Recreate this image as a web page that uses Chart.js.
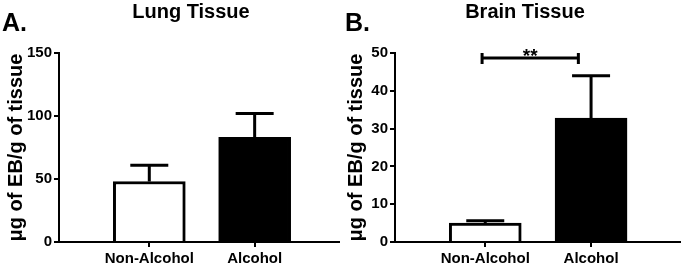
<!DOCTYPE html>
<html>
<head>
<meta charset="utf-8">
<script src="https://cdn.jsdelivr.net/npm/chart.js@4.4.1/dist/chart.umd.min.js"></script>
<style>
  body { margin: 0; background: #fff; }
  #wrap { position: relative; width: 681px; height: 266px; overflow: hidden; }
  canvas { position: absolute; top: 0; }
  .lbl { position: absolute; font-family: "Liberation Sans", Arial, sans-serif; font-weight: bold; color: #000; white-space: nowrap; }
  .panel { font-size: 25px; line-height: 25px; }
  .ttl { font-size: 20px; line-height: 20px; text-align: center; width: 200px; }
</style>
</head>
<body>
<div id="wrap">
  <canvas id="lung" width="340" height="266" style="left:0"></canvas>
  <canvas id="brain" width="341" height="266" style="left:340px"></canvas>
  <div class="lbl panel" style="left:2px;top:10px">A.</div>
  <div class="lbl panel" style="left:345px;top:10px">B.</div>
  <div class="lbl ttl" style="left:91px;top:1px">Lung Tissue</div>
  <div class="lbl ttl" style="left:425px;top:1px">Brain Tissue</div>
</div>
<script>
// groups on the x axis
var groups = ['Non-Alcohol', 'Alcohol'];
var groupPos = [1, 2];

// lung tissue: mean and SEM (ug EB / g tissue)
var lungMean = [48, 83];
var lungSem = [13, 19];

// brain tissue: mean and SEM
var brainMean = [5.0, 32.8];
var brainSem = [0.6, 11.2];

// significance between groups in brain
var sigX = [0.97, 1.88];
var sigY = 48.7;
var sigText = '**';

var yTitle = 'μg of EB/g of tissue';

Chart.defaults.font.family = '"Liberation Sans", Arial, sans-serif';
Chart.defaults.font.weight = 'bold';
Chart.defaults.color = '#000';

// one-sided error bars on top of each bar
function errorBars(means, sems) {
    return {
        id: 'errorBars',
        afterDatasetsDraw: function (chart) {
            var ctx = chart.ctx;
            var xs = chart.scales.x, ys = chart.scales.y;
            ctx.save();
            ctx.strokeStyle = '#000';
            ctx.lineWidth = 3;
            for (var i = 0; i < means.length; i++) {
                var x = xs.getPixelForValue(groupPos[i]);
                var y0 = ys.getPixelForValue(means[i]);
                var y1 = ys.getPixelForValue(means[i] + sems[i]);
                ctx.beginPath();
                ctx.moveTo(x, y0);
                ctx.lineTo(x, y1);
                ctx.moveTo(x - 19, y1);
                ctx.lineTo(x + 19, y1);
                ctx.stroke();
            }
            ctx.restore();
        }
    };
}

var sigBracket = {
    id: 'sigBracket',
    afterDatasetsDraw: function (chart) {
        var ctx = chart.ctx;
        var xs = chart.scales.x, ys = chart.scales.y;
        var x0 = xs.getPixelForValue(sigX[0]);
        var x1 = xs.getPixelForValue(sigX[1]);
        var y = ys.getPixelForValue(sigY);
        ctx.save();
        ctx.strokeStyle = '#000';
        ctx.lineWidth = 3;
        ctx.beginPath();
        ctx.moveTo(x0, y); ctx.lineTo(x1, y);
        ctx.moveTo(x0, y - 5); ctx.lineTo(x0, y + 6);
        ctx.moveTo(x1, y - 5); ctx.lineTo(x1, y + 6);
        ctx.stroke();
        ctx.fillStyle = '#000';
        ctx.font = 'bold 19px "Liberation Sans", Arial, sans-serif';
        ctx.textAlign = 'center';
        ctx.textBaseline = 'alphabetic';
        ctx.fillText(sigText, (x0 + x1) / 2, y + 4);
        ctx.restore();
    }
};

function makeChart(id, means, sems, xMin, xMax, yMax, step, axisW, extra) {
    var plugins = [errorBars(means, sems)];
    if (extra) plugins.push(extra);
    return new Chart(document.getElementById(id).getContext('2d'), {
        type: 'bar',
        data: {
            datasets: [{
                data: groupPos.map(function (p, i) { return { x: p, y: means[i] }; }),
                backgroundColor: ['#fff', '#000'],
                borderColor: '#000',
                borderWidth: 3,
                barThickness: 72
            }]
        },
        options: {
            responsive: false,
            animation: false,
            layout: { padding: { top: 53, right: 0, bottom: 0, left: 0 } },
            plugins: { legend: { display: false }, tooltip: { enabled: false } },
            scales: {
                x: {
                    type: 'linear',
                    offset: false,
                    min: xMin,
                    max: xMax,
                    afterBuildTicks: function (s) { s.ticks = groupPos.map(function (v) { return { value: v }; }); },
                    afterFit: function (s) { s.height = 24; },
                    ticks: {
                        autoSkip: false,
                        maxRotation: 0,
                        padding: 3,
                        font: { size: 15, weight: 'bold' },
                        callback: function (v) { return groups[groupPos.indexOf(v)]; }
                    },
                    grid: { offset: false, drawOnChartArea: false, tickLength: 5, color: '#000', lineWidth: 2 },
                    border: { color: '#000', width: 2 }
                },
                y: {
                    min: 0,
                    max: yMax,
                    afterFit: function (s) { s.width = axisW; },
                    ticks: { stepSize: step, padding: 2, font: { size: 15, weight: 'bold' } },
                    grid: { drawOnChartArea: false, tickLength: 5, color: '#000', lineWidth: 2 },
                    border: { color: '#000', width: 2 },
                    title: { display: true, text: yTitle, font: { size: 20, weight: 'bold' }, padding: { top: 4, bottom: 0 } }
                }
            }
        },
        plugins: plugins
    });
}

makeChart('lung', lungMean, lungSem, 0.143, 2.81, 150, 50, 59, null);
makeChart('brain', brainMean, brainSem, 0.147, 2.85, 50, 10, 55, sigBracket);
</script>
</body>
</html>
